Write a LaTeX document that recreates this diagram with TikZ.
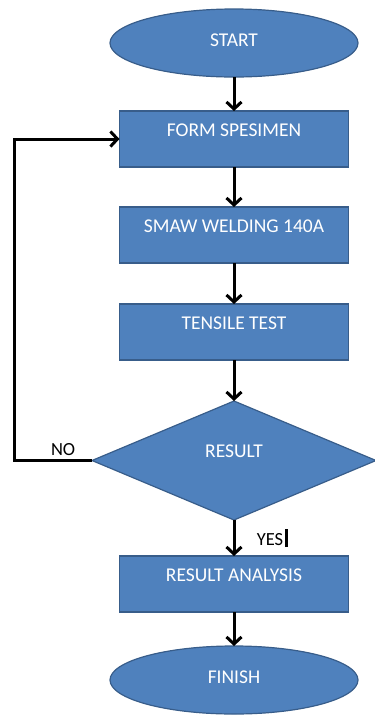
\documentclass[tikz,border=0pt]{standalone}
\usepackage{fontspec}
\setmainfont{Carlito}
\usepackage{xcolor}
\usepackage{tikz}
\usetikzlibrary{arrows.meta,shapes.geometric,positioning}

\definecolor{boxfill}{RGB}{79,129,189}
\definecolor{boxline}{RGB}{56,93,138}

\tikzset{
  flowshape/.style={draw=boxline, line width=1.2pt, fill=boxfill, text=white,
    outer sep=0pt, font=\fontsize{19.5}{22}\selectfont},
  terminal/.style={flowshape, ellipse, minimum width=248pt, minimum height=68pt,
    inner sep=0pt, text height=12pt, text depth=6pt},
  procbox/.style={flowshape, rectangle, minimum width=229pt, inner ysep=0pt,
    text height=25pt, text depth=31pt},
  decision/.style={flowshape, diamond, minimum width=284pt, minimum height=119pt,
    inner sep=0pt, text height=13pt, text depth=20pt},
  flow/.style={line width=3pt, -{Straight Barb[length=7pt,width=15pt]}},
  lbl/.style={font=\fontsize{18.5}{20}\selectfont, text=black}
}

\begin{document}
\begin{tikzpicture}
    \useasboundingbox (0,0) rectangle (375pt,-716pt);
    % Flow chart of the welding test procedure
    \node[terminal] (start) at (234pt,-43pt) {START};
    \node[procbox, below=34pt of start] (form) {FORM SPESIMEN};
    \node[procbox, below=40pt of form] (smaw) {SMAW WELDING 140A};
    \node[procbox, below=41pt of smaw] (tensile) {TENSILE TEST};
    \node[decision, below=41pt of tensile] (result) {RESULT};
    \node[procbox, below=36pt of result] (analysis) {RESULT ANALYSIS};
    \node[terminal, below=34pt of analysis] (finish) {FINISH};
    % Straight arrows down the chart
    \foreach \a/\b in {start/form, smaw/tensile, form/smaw, tensile/result, analysis/finish} {
      \draw[flow] (\a.south) -- (\b.north);
    }
    \draw[flow] (result.south) -- (analysis.north)
      node[lbl, midway, right=18pt] {YES\hspace{1.5pt}\rule[-2pt]{3pt}{18pt}};
    % Loop back when the result fails
    \path (result.west) ++(-78pt,0) coordinate (noturn);
    \draw[flow] (result.west) -- node[lbl, above, pos=0.37] {NO} (noturn)
      |- (form.west);
  \end{tikzpicture}
\end{document}
